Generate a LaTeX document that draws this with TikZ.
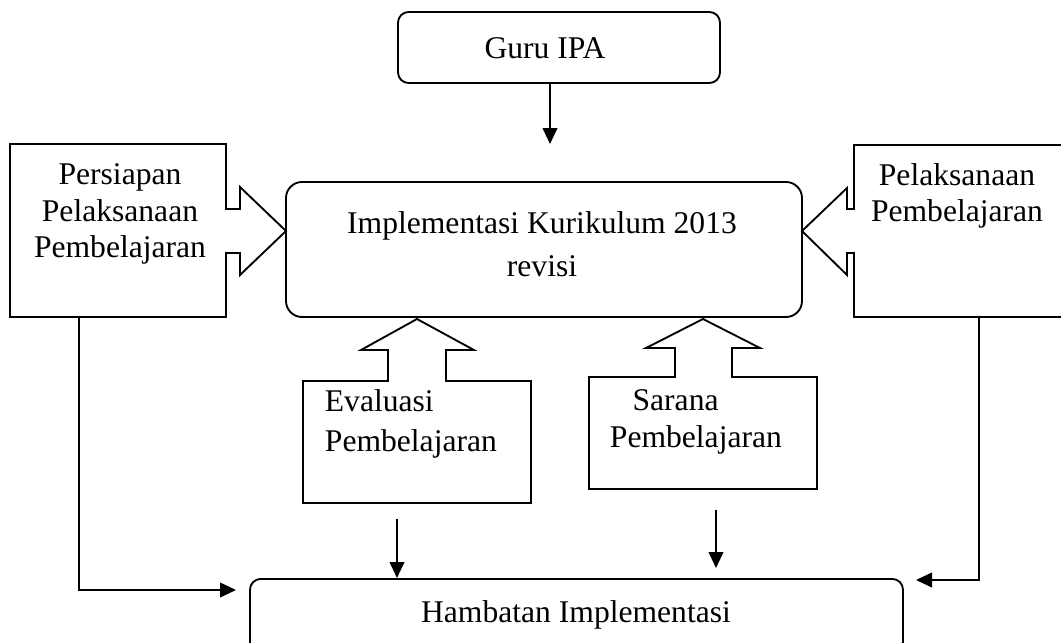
\documentclass[tikz,border=0pt]{standalone}
\usepackage{fontspec}
\setmainfont{Liberation Serif}
\usetikzlibrary{positioning,arrows.meta}

\begin{document}
\begin{tikzpicture}[x=0.75pt, y=-0.75pt, line width=1.4pt,
  font=\fontsize{23.7}{27.5}\selectfont,
  rbox/.style={draw, rounded corners=#1, inner sep=0pt},
  txt/.style={inner sep=0pt, align=center},
  flow/.style={-{Triangle[length=12pt,width=11pt]}}]
\useasboundingbox (0,0) rectangle (1061,643);
\clip (0,0) rectangle (1061,643);
% rounded boxes
\node[rbox=8pt, minimum width=241.5pt, minimum height=53.25pt] (guru) at (559,47.5) {};
\node[txt] (gurutext) at (545,48) {Guru IPA};
\node[rbox=12pt, minimum width=387pt, minimum height=101.25pt] (impl) at (544,249.5) {};
\node[txt] (impltext) at (542,244) {Implementasi Kurikulum 2013\\[5pt]revisi};
\node[rbox=8pt, minimum width=489.75pt, minimum height=80pt, anchor=north] (hambatan) at (576.5,578) {};
\node[txt] (hambatantext) at (576,615) {Hambatan Implementasi};
% callout boxes
\draw (10,144) -- (226,144) -- (226,209) -- (240,209) -- (240,187) -- (286,231)
  -- (240,275) -- (240,253) -- (226,253) -- (226,317) -- (10,317) -- cycle;
\node[txt] (persiapan) at (120,214) {Persiapan\\Pelaksanaan\\Pembelajaran};
\draw (1090,145) -- (854,145) -- (854,209) -- (847,209) -- (847,188) -- (802,231)
  -- (847,275) -- (847,253) -- (854,253) -- (854,317) -- (1090,317);
\node[txt] (pelaksanaan) at (957,196) {Pelaksanaan\\Pembelajaran};
\draw (303,381) -- (388,381) -- (388,350) -- (361,350) -- (417,319) -- (474,350)
  -- (446,350) -- (446,381) -- (531,381) -- (531,503) -- (303,503) -- cycle;
\node[txt, align=left, anchor=west] (evaluasi) at (324,424) {Evaluasi\\[2pt]Pembelajaran};
\draw (589,377) -- (675,377) -- (675,348) -- (646,348) -- (703,319) -- (760,348)
  -- (732,348) -- (732,377) -- (817,377) -- (817,489) -- (589,489) -- cycle;
\node[txt, align=left, anchor=west] (sarana) at (609,422) {\hspace*{17pt}Sarana\\Pembelajaran};
% connectors
\coordinate (gend) at (550,144);
\draw[flow] (guru.south -| gend) -- (gend);
\coordinate (pbot) at (79,317);
\coordinate (pend) at (236,590);
\draw[flow] (pbot) |- (pend);
\coordinate (rbot) at (979,317);
\coordinate (rend) at (916,580);
\draw[flow] (rbot) |- (rend);
\coordinate (ebot) at (397,519);
\draw[flow] (ebot) -- (ebot |- hambatan.north);
\coordinate (sbot) at (716,510);
\coordinate (send) at (716,568);
\draw[flow] (sbot) -- (send);
\end{tikzpicture}
\end{document}
